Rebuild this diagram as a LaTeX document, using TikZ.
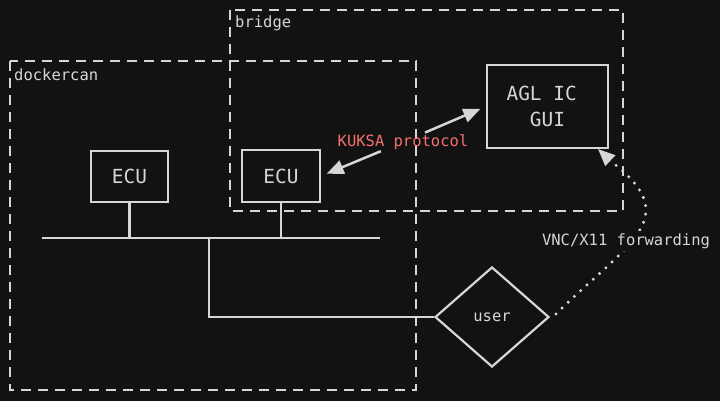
\documentclass[tikz,border=0pt]{standalone}
\usepackage{fontspec}
\setmonofont{DejaVu Sans Mono}
\usetikzlibrary{arrows.meta,shapes.geometric}
\definecolor{bgc}{HTML}{121212}
\definecolor{fgc}{HTML}{D6D6D6}
\definecolor{redc}{RGB}{246,112,112}
\tikzset{
  grp/.style={draw=fgc,line width=2.2pt,dash pattern=on 10pt off 7pt},
  grplabel/.style={anchor=west,text=fgc,font=\ttfamily\fontsize{15.5}{18}\selectfont,inner sep=0pt},
  boxn/.style={draw=fgc,line width=2.2pt,fill=bgc,text=fgc,font=\ttfamily\fontsize{19.4}{23}\selectfont,inner sep=0pt,align=center},
  wire/.style={draw=fgc,line width=2.2pt},
  lbl/.style={font=\ttfamily\fontsize{15.5}{18}\selectfont,inner sep=2pt},
  arr/.style={draw=fgc,line width=2.5pt,-{Triangle[length=17pt,width=14pt]}},
}
\begin{document}
\begin{tikzpicture}[x=1pt,y=-1pt]
\fill[bgc] (0,0) rectangle (720,401);
\useasboundingbox (0,0) rectangle (720,401);
% groups
\draw[grp] (230,10) rectangle (623,211);
\node[grplabel] (bridgelbl) at (235,23) {bridge};
\draw[grp] (10,61) rectangle (416,390);
\node[grplabel] (dockerlbl) at (14,75) {dockercan};
% nodes
\node[boxn,minimum width=77pt,minimum height=51pt] (ecu1) at (129.5,176.5) {ECU};
\node[boxn,minimum width=78pt,minimum height=52pt] (ecu2) at (281,176) {ECU};
\node[boxn,minimum width=121pt,minimum height=83pt,font=\ttfamily\fontsize{19.4}{26}\selectfont] (agl) at (547.5,106.5) {AGL IC\hphantom{x}\\GUI};
\node[draw=fgc,line width=2.2pt,shape=diamond,minimum width=114pt,minimum height=100pt,inner sep=0pt,text=fgc,font=\ttfamily\fontsize{15.5}{18}\selectfont] (user) at (492,317) {user};
% bus
\coordinate (busL) at (42,238);
\coordinate (busR) at (380,238);
\coordinate (busJ) at (209,238);
\coordinate (busC) at (209,317);
\draw[wire] (busL) -- (busR);
\draw[wire] (ecu1.south) -- (ecu1.south |- busL);
\draw[wire] (ecu2.south) -- (ecu2.south |- busL);
\draw[wire] (busJ) -- (busC) -- (user.west);
% KUKSA
\node[lbl,text=redc] (kuksa) at (403,142) {KUKSA protocol};
\draw[arr,shorten <=24pt,shorten >=6pt] (kuksa.center) -- (ecu2.east);
\draw[arr,shorten <=24pt,shorten >=6pt] (kuksa.center) -- (agl.west);
% VNC
\coordinate (vncS) at (556,314);
\coordinate (vncM) at (646,210);
\coordinate (vncE) at (598,149);
\draw[draw=fgc,line width=3.3pt,line cap=round,dash pattern=on 0pt off 8.5pt,-{Triangle[length=17pt,width=14pt]}]
  (vncS) .. controls (600,270) and (646,240) .. (vncM)
  .. controls (646,186) and (616,166) .. (vncE);
\node[lbl,fill=bgc,text=fgc] (vnc) at (626,241) {VNC/X11 forwarding};
\end{tikzpicture}
\end{document}
